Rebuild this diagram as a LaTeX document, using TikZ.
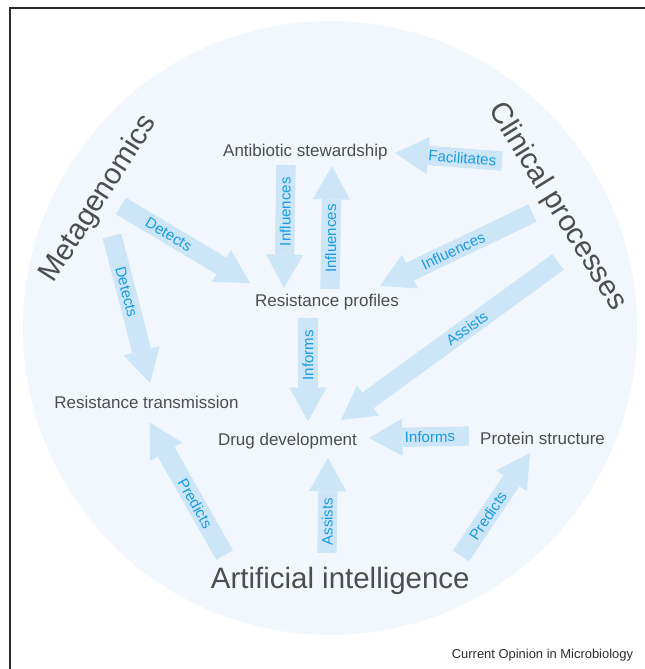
\documentclass[tikz,border=0pt]{standalone}
\usepackage{fontspec}
\setmainfont{Liberation Sans}
\usetikzlibrary{arrows.meta}
\definecolor{circfill}{HTML}{F1F7FD}
\definecolor{arrowfill}{HTML}{CCE6F8}
\definecolor{verbblue}{HTML}{1A9BE0}
\definecolor{txtgray}{HTML}{4D4D4D}
\definecolor{framegray}{HTML}{2B2B2B}
\begin{document}
\begin{tikzpicture}[x=0.75pt,y=-0.75pt,
    topic/.style={text=txtgray,font=\fontsize{12.75}{15}\selectfont,anchor=base,inner sep=0pt},
    field/.style={text=txtgray,font=\fontsize{22.1}{26}\selectfont,inner sep=0pt},
    fat/.style={draw=arrowfill,line width=14.5pt,-{Triangle[width=28pt,length=25pt,line width=0pt 0]}},
    verb/.style={text=verbblue,font=\fontsize{11.3}{13}\selectfont,inner sep=0pt}]
    \useasboundingbox (0,0) rectangle (645,669);
    \draw[line width=0.9pt,framegray] (645,8)--(10,8)--(10,669);
    \fill[circfill] (330,328) circle (307);
    % topics
    \node[topic] (stew) at (305.4,156.7) {Antibiotic stewardship};
    \node[topic] (prof) at (327,306.7) {Resistance profiles};
    \node[topic] (trans) at (146.5,408.7) {Resistance transmission};
    \node[topic] (drug) at (287.5,445) {Drug development};
    \node[topic] (prot) at (542.6,444) {Protein structure};
    % fields
    \node[field,rotate=57.5] (meta) at (99,199) {Metagenomics};
    \node[field,rotate=-58.3] (clin) at (557,207) {Clinical processes};
    \node[field,anchor=base] (ai) at (340.3,588.3) {Artificial intelligence};
    \node[anchor=base east,inner sep=0pt,text=framegray,font=\fontsize{9.7}{11}\selectfont] (credit) at (633.3,658.3) {Current Opinion in Microbiology};
    % arrow tails
    \coordinate (cp-out1) at (502,161);
    \coordinate (cp-out2) at (532.5,213);
    \coordinate (cp-out3) at (558,262);
    \coordinate (mg-out1) at (121,206);
    \coordinate (mg-out2) at (112,236);
    \coordinate (stew-out) at (286,165);
    \coordinate (prof-out1) at (330,289);
    \coordinate (prof-out2) at (308,318);
    \coordinate (prot-out) at (469,436);
    \coordinate (ai-out1) at (224.5,555);
    \coordinate (ai-out2) at (327,553);
    \coordinate (ai-out3) at (461,556);
    % arrow tips
    \coordinate (stew-in1) at (395,153);
    \coordinate (stew-in2) at (332,166);
    \coordinate (prof-in1) at (380,286);
    \coordinate (prof-in2) at (250,283);
    \coordinate (prof-in3) at (284,288);
    \coordinate (drug-in1) at (341,420);
    \coordinate (drug-in2) at (308,421);
    \coordinate (drug-in3) at (369,438);
    \coordinate (drug-in4) at (328,458);
    \coordinate (trans-in1) at (150,383);
    \coordinate (trans-in2) at (149.7,422.7);
    \coordinate (prot-in) at (530,453);
    % links
    \draw[fat] (cp-out1)--(stew-in1) node[verb,pos=.37,rotate=-4.3]{Facilitates};
    \draw[fat] (cp-out2)--(prof-in1) node[verb,pos=.52,rotate=25.6]{Influences};
    \draw[fat] (cp-out3)--(drug-in1) node[verb,pos=.42,rotate=36.1]{Assists};
    \draw[fat] (mg-out1)--(prof-in2) node[verb,pos=.37,rotate=-30.8]{Detects};
    \draw[fat] (mg-out2)--(trans-in1) node[verb,pos=.38,rotate=-75.5]{Detects};
    \draw[fat] (stew-out)--(prof-in3) node[verb,pos=.38,rotate=90]{Influences};
    \draw[fat] (prof-out1)--(stew-in2) node[verb,pos=.41,rotate=90]{Influences};
    \draw[fat] (prof-out2)--(drug-in2) node[verb,pos=.36,rotate=90]{Informs};
    \draw[fat] (prot-out)--(drug-in3) node[verb,pos=.39,rotate=1.1]{Informs};
    \draw[fat] (ai-out1)--(trans-in2) node[verb,pos=.39,rotate=-60.5]{Predicts};
    \draw[fat] (ai-out2)--(drug-in4) node[verb,pos=.33,rotate=90]{Assists};
    \draw[fat] (ai-out3)--(prot-in) node[verb,pos=.39,rotate=56.2]{Predicts};
\end{tikzpicture}
\end{document}
